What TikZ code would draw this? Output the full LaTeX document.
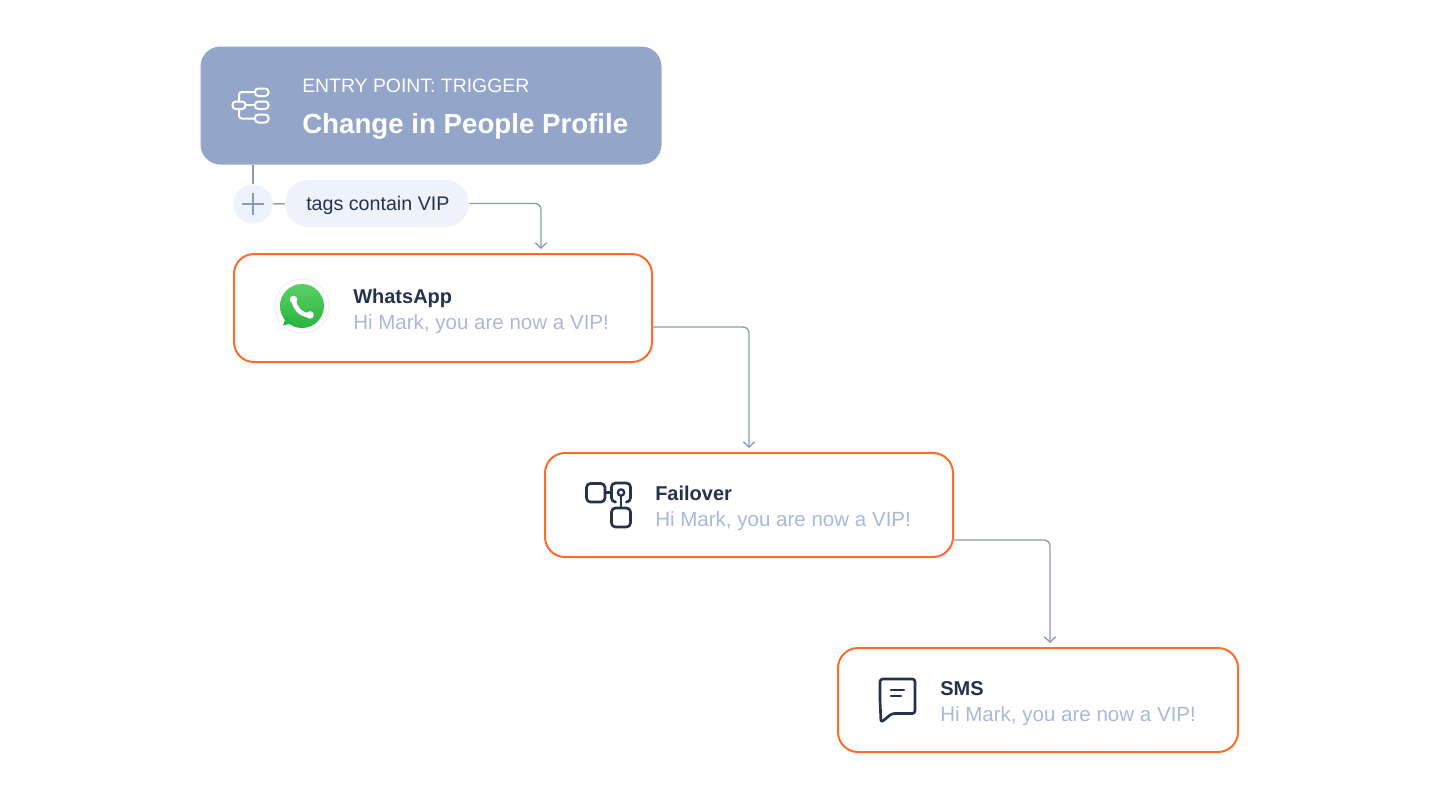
\documentclass[tikz,border=0pt]{standalone}
\usepackage{fontspec}
\setmainfont{Liberation Sans}
\usetikzlibrary{arrows.meta,calc}
\definecolor{triggerblue}{HTML}{93A5C8}
\definecolor{palefill}{HTML}{EDF2FC}
\definecolor{linegrey}{HTML}{8A9AB2}
\definecolor{boxorange}{HTML}{FF6B2C}
\definecolor{inkdark}{HTML}{25324B}
\definecolor{softblue}{HTML}{AAB9D8}
\definecolor{greentop}{HTML}{5BD066}
\definecolor{greenlow}{HTML}{27B43E}
\tikzset{
  flowbox/.style={draw=boxorange,line width=1.5pt,fill=white,rounded corners=15pt,minimum width=#1,inner sep=0pt},
  label/.style={anchor=base west,inner sep=0pt},
  boxtitle/.style={label,text=inkdark,font=\fontsize{15pt}{16pt}\selectfont\bfseries},
  boxtext/.style={label,text=softblue,font=\fontsize{15.4pt}{16pt}\selectfont},
  wire/.style={draw=linegrey,line width=1pt},
  flowarrow/.style={wire,rounded corners=4.5pt,-{Straight Barb[length=4pt,width=8.5pt,line width=1pt]},shorten >=3pt},
  iconline/.style={draw=inkdark,line width=2pt,line cap=round,line join=round},
  iconwhite/.style={white,line width=1.5pt}
}
\begin{document}
\begin{tikzpicture}[x=0.75pt,y=-0.75pt]
  \useasboundingbox (0,0) rectangle (1440,800);
  \node[fill=triggerblue,rounded corners=15pt,minimum width=345.75pt,minimum height=88.5pt,inner sep=0pt] (trigger) at (431,105.5) {};
  \node[label,text=white,font=\fontsize{14.55pt}{16pt}\selectfont] (triggerkind) at (302,92) {ENTRY POINT: TRIGGER};
  \node[label,text=white,font=\fontsize{20.75pt}{24pt}\selectfont\bfseries] (triggername) at (302,133) {Change in People Profile};
  \node[circle,fill=palefill,minimum size=29.5pt,inner sep=0pt] (plus) at (253,204) {};
  \node[fill=palefill,rounded corners=17.6pt,minimum width=138pt,minimum height=35.25pt,inner sep=0pt] (tagpill) at (377,203.5) {};
  \node[label,text=inkdark,font=\fontsize{14.75pt}{16pt}\selectfont] (tagtext) at (306,210) {tags contain VIP};
  \node[flowbox=313.5pt,minimum height=81pt] (whatsapp) at (443,308) {};
  \node[flowbox=306pt,minimum height=78pt] (failover) at (749,505) {};
  \node[flowbox=300pt,minimum height=78pt] (sms) at (1038,700) {};
  \node[boxtitle] (whatsapptitle) at (353,303) {WhatsApp};
  \node[boxtext] (whatsapptext) at (353,329) {Hi Mark, you are now a VIP!};
  \node[boxtitle] (failovertitle) at (655,500) {Failover};
  \node[boxtext] (failovertext) at (655,526) {Hi Mark, you are now a VIP!};
  \node[boxtitle] (smstitle) at (940,695) {SMS};
  \node[boxtext] (smstext) at (940,721) {Hi Mark, you are now a VIP!};

  \draw[wire] (trigger.south -| plus) -- (plus);
  \draw[wire] (plus) -- (tagpill);
  \draw[wire,line width=0.8pt] (242,204) -- (264,204);
  \draw[wire,line width=0.8pt] (253,193) -- (253,215);
  \draw[flowarrow] (tagpill.east) -| ($(whatsapp.north)+(98,0)$);
  \draw[flowarrow] ($(whatsapp.east)+(0,19)$) -| (failover.north);
  \draw[flowarrow] ($(failover.east)+(0,35)$) -| ($(sms.north)+(12,0)$);

  % trigger icon
  \draw[iconwhite,rounded corners=2.5pt] (232.5,101.5) rectangle (245.5,109);
  \draw[iconwhite,rounded corners=2.5pt] (255,88.5) rectangle (268.5,96);
  \draw[iconwhite,rounded corners=2.5pt] (255,101.5) rectangle (268.5,109);
  \draw[iconwhite,rounded corners=2.5pt] (255,114.5) rectangle (268.5,122.5);
  \draw[iconwhite,rounded corners=2pt] (255,92) -- (239,92) -- (239,101.5);
  \draw[iconwhite,rounded corners=2pt] (239,109) -- (239,118.5) -- (255,118.5);
  \draw[iconwhite] (245.5,105.2) -- (255,105.2);

  % whatsapp icon
  \fill[black!4] (302,306) circle[radius=28];
  \fill[black!4] (280,318) -- (276,331) -- (292,327) -- cycle;
  \fill[white] (302,306) circle[radius=26];
  \fill[white] (281,318) -- (278,329) -- (292,325) -- cycle;
  \shade[top color=greentop,bottom color=greenlow] (302,306) circle[radius=22];
  \fill[greenlow] (286,317) -- (283,325.5) -- (293,323) -- cycle;
  \draw[white,line width=3.4pt,line cap=round] (294,300) .. controls (294.5,308) and (300,314) .. (309,315.5);
  \fill[white] (293.5,299.5) circle[radius=3.8];
  \fill[white] (310,315) circle[radius=3.8];

  % failover icon
  \draw[iconline,rounded corners=3pt] (586.5,483.5) rectangle (605,502);
  \draw[iconline] (605,492.7) -- (611,492.7);
  \draw[iconline,rounded corners=3pt] (615,502) -- (611.5,502) -- (611.5,483) -- (630.5,483) -- (630.5,502) -- (627,502);
  \draw[iconline,line width=1.7pt] (621,492.5) circle[radius=3.2];
  \draw[iconline,line width=1.7pt] (621,495.7) -- (621,508);
  \draw[iconline,rounded corners=3pt] (611.5,508) rectangle (630.5,527);

  % sms icon
  \draw[iconline,rounded corners=2pt] (880,700) -- (880,679) -- (915,679) -- (915,713.5) -- (892,713.5) -- (881,722.5) -- (880,700);
  \draw[iconline,line width=1.8pt] (891,690) -- (904,690);
  \draw[iconline,line width=1.8pt] (891,696) -- (901,696);
\end{tikzpicture}
\end{document}
